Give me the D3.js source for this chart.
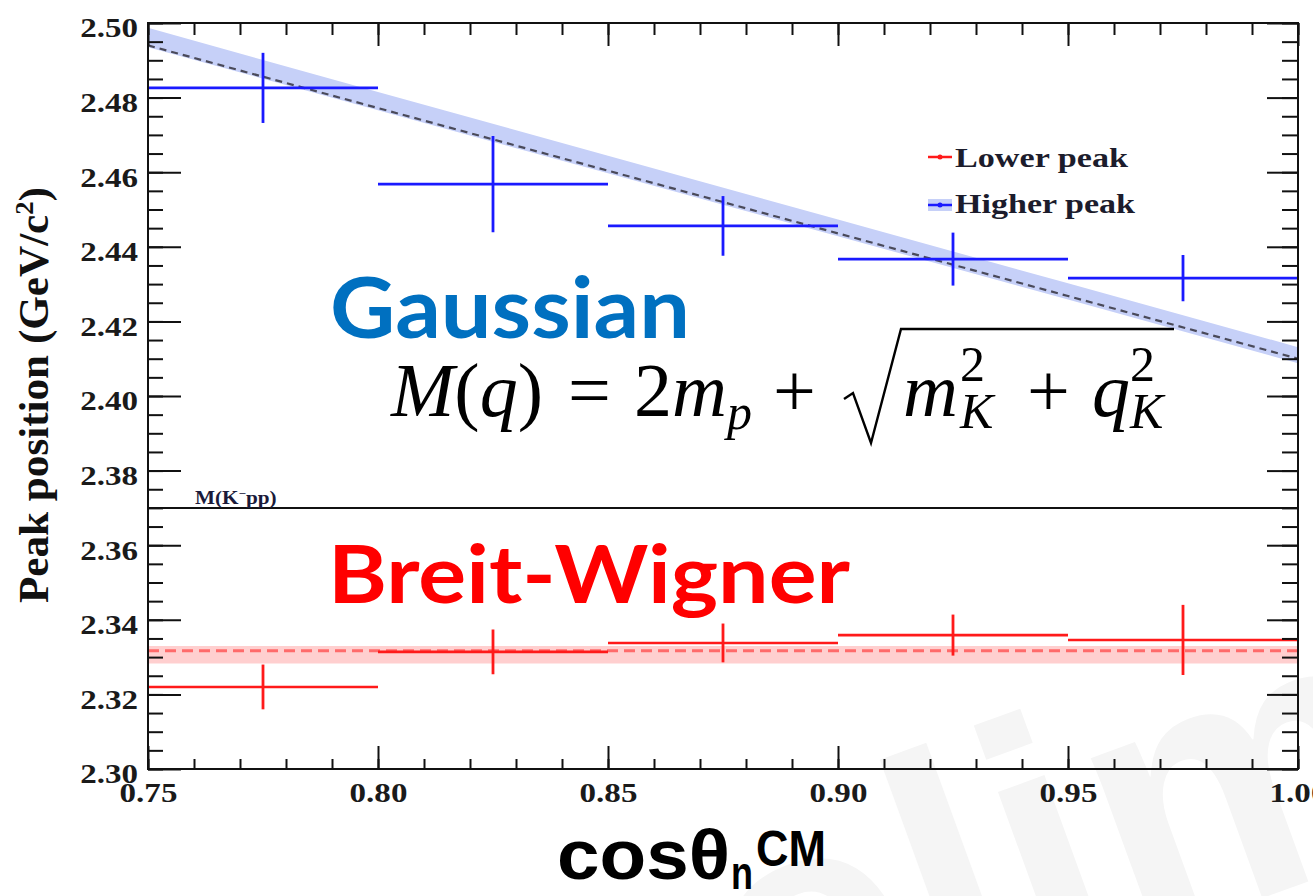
<!DOCTYPE html>
<html>
<head>
<meta charset="utf-8">
<script src="https://cdn.jsdelivr.net/npm/d3@7"></script>
<style>
html, body { margin: 0; padding: 0; background: #fff; overflow: hidden; }
svg { display: block; }
</style>
</head>
<body>
<svg id="chart" width="1313" height="896"></svg>
<script>
// cos(theta_n^CM) bins
var binLow = [0.75, 0.80, 0.85, 0.90, 0.95];
var binHigh = [0.80, 0.85, 0.90, 0.95, 1.00];
var binCenter = [0.775, 0.825, 0.875, 0.925, 0.975];

// higher peak (Gaussian fit), GeV/c^2
var higherPeak = [2.4826, 2.4568, 2.4456, 2.4367, 2.4316];
var higherErr = [0.0094, 0.0129, 0.0080, 0.0071, 0.0062];

// lower peak (Breit-Wigner fit)
var lowerPeak = [2.3220, 2.3314, 2.3338, 2.3359, 2.3346];
var lowerErr = [0.0060, 0.0060, 0.0052, 0.0055, 0.0094];

// M(q) curve with its band
var curveX = [0.75, 0.80, 0.85, 0.90, 0.95, 1.00];
var curveM = [2.4940, 2.4772, 2.4604, 2.4436, 2.4268, 2.4100];
var curveHi = [2.4987, 2.4815, 2.4644, 2.4473, 2.4302, 2.4131];
var curveLo = [2.4935, 2.4766, 2.4597, 2.4428, 2.4259, 2.4088];

// flat line for the lower peak
var flatX = [0.75, 1.00];
var flatM = [2.3317, 2.3317];
var flatHi = [2.3330, 2.3330];
var flatLo = [2.3283, 2.3283];

// M(K-pp) threshold
var thresholdMass = 2.37;

var xTicks = [0.75, 0.80, 0.85, 0.90, 0.95, 1.00];
var yTicks = [2.30, 2.32, 2.34, 2.36, 2.38, 2.40, 2.42, 2.44, 2.46, 2.48, 2.50];
var legendLabels = ["Lower peak", "Higher peak"];

var plot = {left: 148, right: 1298, top: 23, bottom: 769};
var SX = 1.18;  // picture is a bit wider than tall

var blue = "#1a1aff", red = "#ff1a1a";
var blueBand = "#c6d0f8", redBand = "#ffcfcf";
var serif = "'Liberation Serif', 'Times New Roman', serif";

var svg = d3.select("#chart");

var x = d3.scaleLinear().domain([0.75, 1.00]).range([plot.left, plot.right]);
var y = d3.scaleLinear().domain([2.30, 2.50]).range([plot.bottom, plot.top]);

// faint watermark behind everything, mostly off the page
svg.append("text")
    .attr("transform", "translate(400,1212) rotate(-20)")
    .style("font-family", "'Liberation Sans', Arial, sans-serif")
    .style("font-weight", "bold")
    .style("font-size", "360px")
    .style("fill", "#f5f5f5")
    .text("Preliminary");

function rows(xs, m, lo, hi) {
    return xs.map(function (v, i) { return {x: v, m: m[i], lo: lo[i], hi: hi[i]}; });
}

var band = d3.area()
    .x(function (d) { return x(d.x); })
    .y0(function (d) { return y(d.lo); })
    .y1(function (d) { return y(d.hi); });
var mid = d3.line()
    .x(function (d) { return x(d.x); })
    .y(function (d) { return y(d.m); });

var curve = rows(curveX, curveM, curveLo, curveHi);
var flat = rows(flatX, flatM, flatLo, flatHi);

svg.append("path").datum(curve).attr("d", band).attr("fill", blueBand);
svg.append("path").datum(flat).attr("d", band).attr("fill", redBand);

svg.append("path").datum(curve).attr("d", mid)
    .attr("fill", "none").attr("stroke", "#4a4a5a")
    .attr("stroke-width", 2.2).attr("stroke-dasharray", "7,5");
svg.append("path").datum(flat).attr("d", mid)
    .attr("fill", "none").attr("stroke", "#ff6a6a")
    .attr("stroke-width", 3).attr("stroke-dasharray", "11,6");

// threshold line
svg.append("line")
    .attr("x1", x(0.75)).attr("x2", x(1.00))
    .attr("y1", y(thresholdMass)).attr("y2", y(thresholdMass))
    .attr("stroke", "#111").attr("stroke-width", 2);

svg.append("text")
    .attr("transform", "translate(195,504) scale(" + SX + ",1)")
    .style("font-family", serif).style("font-weight", "bold")
    .style("font-size", "18px").style("fill", "#1a1a3a")
    .html("M(K<tspan dy='-7' font-size='11'>&#8722;</tspan><tspan dy='7'>pp)</tspan>");

// error bars
function errorBars(vals, errs, color) {
    var g = svg.append("g").attr("stroke", color);
    var d = binCenter.map(function (c, i) {
        return {c: c, lo: binLow[i], hi: binHigh[i], v: vals[i], e: errs[i]};
    });
    g.selectAll("line.h").data(d).enter().append("line")
        .attr("x1", function (p) { return x(p.lo); })
        .attr("x2", function (p) { return x(p.hi); })
        .attr("y1", function (p) { return y(p.v); })
        .attr("y2", function (p) { return y(p.v); })
        .attr("stroke-width", 2.6);
    g.selectAll("line.v").data(d).enter().append("line")
        .attr("x1", function (p) { return x(p.c); })
        .attr("x2", function (p) { return x(p.c); })
        .attr("y1", function (p) { return y(p.v - p.e); })
        .attr("y2", function (p) { return y(p.v + p.e); })
        .attr("stroke-width", 2.8);
}
errorBars(higherPeak, higherErr, blue);
errorBars(lowerPeak, lowerErr, red);

// frame and ticks
var xMinor = d3.range(0, 26).map(function (i) { return 0.75 + i * 0.01; });
var yMinor = d3.range(0, 41).map(function (i) { return 2.30 + i * 0.005; });

function axis(gen, tx, ty, vals, size, fmt) {
    var g = svg.append("g")
        .attr("transform", "translate(" + tx + "," + ty + ")")
        .call(gen.tickValues(vals).tickSize(size).tickPadding(fmt ? 10 : 3)
            .tickFormat(fmt || function () { return ""; }));
    g.select(".domain").remove();
    g.selectAll(".tick line").attr("stroke", "#111").attr("stroke-width", 2);
    return g;
}

axis(d3.axisLeft(y), plot.left, 0, yMinor, -15);
axis(d3.axisRight(y), plot.right, 0, yMinor, -16);
axis(d3.axisRight(y), plot.right, 0, yTicks, -31);
axis(d3.axisBottom(x), 0, plot.bottom, xMinor, -10);
axis(d3.axisTop(x), 0, plot.top, xMinor, -12);
axis(d3.axisTop(x), 0, plot.top, xTicks, -23);

var yAx = axis(d3.axisLeft(y), plot.left, 0, yTicks, -33, d3.format(".2f"));
yAx.selectAll("text")
    .attr("x", 0)
    .attr("transform", "translate(-10,5) scale(" + SX + ",1)")
    .style("font-family", serif).style("font-weight", "bold")
    .style("font-size", "28px").style("fill", "#1a1a1a");

var xAx = axis(d3.axisBottom(x), 0, plot.bottom, xTicks, -23, d3.format(".2f"));
xAx.selectAll("text")
    .attr("y", 0).attr("dy", null)
    .attr("transform", "translate(0,33) scale(" + SX + ",1)")
    .style("font-family", serif).style("font-weight", "bold")
    .style("font-size", "28px").style("fill", "#1a1a1a");

svg.append("rect")
    .attr("x", plot.left).attr("y", plot.top)
    .attr("width", plot.right - plot.left).attr("height", plot.bottom - plot.top)
    .attr("fill", "none").attr("stroke", "#111").attr("stroke-width", 2);

// axis titles
svg.append("text")
    .attr("transform", "translate(48,395) rotate(-90)")
    .attr("text-anchor", "middle")
    .attr("textLength", 416).attr("lengthAdjust", "spacingAndGlyphs")
    .style("font-family", serif).style("font-weight", "bold")
    .style("font-size", "42px").style("fill", "#111")
    .html("Peak position (GeV/c<tspan dy='-15' font-size='26'>2</tspan><tspan dy='15'>)</tspan>");

var xt = svg.append("g").style("font-family", "'Liberation Sans', Arial, sans-serif")
    .style("font-weight", "bold").style("fill", "#000");
xt.append("text").attr("x", 557).attr("y", 879)
    .attr("textLength", 173).attr("lengthAdjust", "spacingAndGlyphs")
    .style("font-size", "70px").text("cosθ");
xt.append("text").attr("x", 731).attr("y", 889)
    .attr("textLength", 22).attr("lengthAdjust", "spacingAndGlyphs")
    .style("font-size", "46px").text("n");
xt.append("text").attr("x", 756).attr("y", 866)
    .attr("textLength", 70).attr("lengthAdjust", "spacingAndGlyphs")
    .style("font-size", "50px").text("CM");

// legend
var leg = svg.append("g");
leg.append("rect").attr("x", 928).attr("y", 199).attr("width", 24).attr("height", 12)
    .attr("fill", blueBand);
[[157, red], [205, blue]].forEach(function (r, i) {
    leg.append("line").attr("x1", 928).attr("x2", 952)
        .attr("y1", r[0]).attr("y2", r[0])
        .attr("stroke", r[1]).attr("stroke-width", 2.5);
    leg.append("circle").attr("cx", 940).attr("cy", r[0]).attr("r", 2.5).attr("fill", r[1]);
    leg.append("text").attr("x", 955).attr("y", r[0] + 10 + i * -2)
        .attr("textLength", i ? 180 : 173).attr("lengthAdjust", "spacingAndGlyphs")
        .style("font-family", serif).style("font-weight", "bold")
        .style("font-size", "27px").style("fill", "#1c1c2c")
        .text(legendLabels[i]);
});

// fit model labels
svg.append("text").attr("x", 330).attr("y", 338)
    .attr("textLength", 360).attr("lengthAdjust", "spacingAndGlyphs")
    .style("font-family", "Lato, 'Open Sans', sans-serif").style("font-weight", "bold")
    .style("font-size", "84px").style("fill", "#0070c0")
    .text("Gaussian");
svg.append("text").attr("x", 328).attr("y", 603)
    .attr("textLength", 522).attr("lengthAdjust", "spacingAndGlyphs")
    .style("font-family", "Lato, 'Open Sans', sans-serif").style("font-weight", "bold")
    .style("font-size", "80px").style("fill", "#ff0000")
    .text("Breit-Wigner");

// formula M(q) = 2m_p + sqrt(m_K^2 + q_K^2)
var fx = svg.append("g").style("font-family", serif).style("fill", "#000");
var FS = 76, SS = 50, base = 416;
function piece(px, py, size, html) {
    return fx.append("text")
        .attr("x", px).attr("y", py)
        .style("font-size", size + "px").html(html);
}
piece(391, base, FS, "<tspan font-style='italic'>M</tspan>(<tspan font-style='italic'>q</tspan>)");
piece(568, base, FS, "=");
piece(634, base, FS, "2<tspan font-style='italic'>m</tspan>");
piece(727, base + 13, SS, "<tspan font-style='italic'>p</tspan>");
piece(773, base, FS, "+");
piece(903, base, FS, "<tspan font-style='italic'>m</tspan>");
piece(960, base - 35, SS, "2");
piece(960, base + 12, SS, "<tspan font-style='italic'>K</tspan>");
piece(1027, base, FS, "+");
piece(1092, base, FS, "<tspan font-style='italic'>q</tspan>");
piece(1130, base - 35, SS, "2");
piece(1130, base + 12, SS, "<tspan font-style='italic'>K</tspan>");
fx.append("path")
    .attr("d", "M844,399 L853,393 L871,443 L901,329 L1174,329")
    .attr("fill", "none").attr("stroke", "#000").attr("stroke-width", 2.4)
    .attr("stroke-linejoin", "miter");
</script>
</body>
</html>
